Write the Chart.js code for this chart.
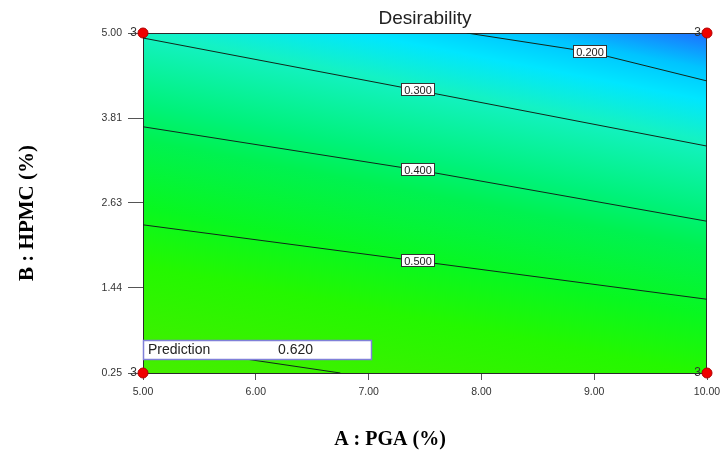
<!DOCTYPE html>
<html>
<head>
<meta charset="utf-8">
<title>Desirability</title>
<script src="https://cdn.jsdelivr.net/npm/chart.js@4.4.1/dist/chart.umd.min.js"></script>
<style>
  html, body { margin: 0; padding: 0; background: #fff; }
</style>
</head>
<body>
<canvas id="chart" width="720" height="452"></canvas>
<script>
"use strict";

// axis ticks
const xTicks = [5, 6, 7, 8, 9, 10];
const yTicks = [0.25, 1.44, 2.63, 3.81, 5.00];

// design points (corners) + number of replicates
const designA = [5, 10, 5, 10];
const designB = [0.25, 0.25, 5, 5];
const designReps = [3, 3, 3, 3];

// contour lines
const levels = ['0.200', '0.300', '0.400', '0.500', '0.600'];
const contourA = [
    [7.87, 8.96, 10],
    [5, 7.5, 10],
    [5, 7.5, 10],
    [5, 7.5, 10],
    [5, 5.92, 6.75]
];
const contourB = [
    [5.00, 4.735, 4.33],
    [4.93, 4.18, 3.42],
    [3.69, 3.07, 2.37],
    [2.32, 1.80, 1.28],
    [0.645, 0.443, 0.25]
];
// A value where each level label sits (null = hidden)
const labelA = [8.96, 7.44, 7.44, 7.44, null];

const predictionValue = 0.620;

(function(){

    Chart.defaults.font.family = 'Arial, "Liberation Sans", sans-serif';

    // interpolate B on a contour for a given A
    function contourAt(i, a){
        const xs = contourA[i], ys = contourB[i];
        for (let k = 0; k < xs.length - 1; k++) {
            if (a >= xs[k] && a <= xs[k + 1]) {
                const t = (a - xs[k]) / (xs[k + 1] - xs[k]);
                return ys[k] + t * (ys[k + 1] - ys[k]);
            }
        }
        return ys[ys.length - 1];
    }

    // colour ramp, bottom-left (high) to top-right (low)
    const ramp = [
        [0.00, '#46ee00'],
        [0.24, '#24f800'],
        [0.37, '#08f820'],
        [0.52, '#00f250'],
        [0.60, '#00f27a'],
        [0.76, '#14f2c4'],
        [0.85, '#00e6ff'],
        [0.92, '#00c4ff'],
        [1.00, '#1e6eff']
    ];

    const surfacePlugin = {
        id: 'surface',
        beforeDatasetsDraw(chart){
            const {ctx, chartArea: ca, scales} = chart;
            const x = scales.x, y = scales.y;
            // gradient runs across the contours (use the 0.300 line for the direction)
            const dx = x.getPixelForValue(contourA[1][2]) - x.getPixelForValue(contourA[1][0]);
            const dy = y.getPixelForValue(contourB[1][2]) - y.getPixelForValue(contourB[1][0]);
            const len = Math.hypot(dx, dy);
            const nx = dy / len, ny = -dx / len;
            const T = (ca.right - ca.left) * nx + (ca.top - ca.bottom) * ny;
            const g = ctx.createLinearGradient(ca.left, ca.bottom, ca.left + nx * T, ca.bottom + ny * T);
            ramp.forEach(s => g.addColorStop(s[0], s[1]));
            ctx.save();
            ctx.fillStyle = g;
            ctx.fillRect(ca.left, ca.top, ca.right - ca.left, ca.bottom - ca.top);
            ctx.strokeStyle = '#2a2a2a';
            ctx.lineWidth = 1;
            ctx.strokeRect(ca.left + 0.5, ca.top + 0.5, ca.right - ca.left - 1, ca.bottom - ca.top);
            ctx.restore();
        },
        afterDatasetsDraw(chart){
            const {ctx, chartArea: ca, scales} = chart;
            const x = scales.x, y = scales.y;
            ctx.save();

            // level labels
            ctx.font = '11px Arial, "Liberation Sans", sans-serif';
            ctx.textAlign = 'center';
            ctx.textBaseline = 'middle';
            levels.forEach((lv, i) => {
                if (labelA[i] === null) return;
                const px = Math.round(x.getPixelForValue(labelA[i]));
                const py = Math.round(y.getPixelForValue(contourAt(i, labelA[i])));
                const w = Math.ceil(ctx.measureText(lv).width) + 6;
                ctx.fillStyle = '#fff';
                ctx.fillRect(px - w / 2, py - 7, w, 13);
                ctx.strokeStyle = '#333';
                ctx.strokeRect(px - w / 2 + 0.5, py - 6.5, w - 1, 12);
                ctx.fillStyle = '#222';
                ctx.fillText(lv, px, py + 0.5);
            });

            // prediction box
            const bx = ca.left, by = ca.bottom - 33, bw = 228, bh = 19;
            ctx.fillStyle = '#fff';
            ctx.fillRect(bx, by, bw, bh);
            ctx.strokeStyle = '#8080d8';
            ctx.lineWidth = 1.5;
            ctx.strokeRect(bx + 0.5, by + 0.5, bw, bh);
            ctx.fillStyle = '#222';
            ctx.font = '14px Arial, "Liberation Sans", sans-serif';
            ctx.textAlign = 'left';
            ctx.fillText('Prediction', bx + 5, by + bh / 2 + 1);
            ctx.fillText(predictionValue.toFixed(3), bx + 135, by + bh / 2 + 1);

            // replicate counts next to design points
            ctx.font = '12px Arial, "Liberation Sans", sans-serif';
            ctx.textAlign = 'right';
            ctx.fillStyle = '#333';
            designA.forEach((a, i) => {
                ctx.fillText(String(designReps[i]), x.getPixelForValue(a) - 6, y.getPixelForValue(designB[i]));
            });
            ctx.restore();
        },
        afterDraw(chart){
            const {ctx, chartArea: ca} = chart;
            ctx.save();
            ctx.fillStyle = '#222';
            ctx.textAlign = 'center';
            ctx.textBaseline = 'middle';
            ctx.font = '19px Arial, "Liberation Sans", sans-serif';
            ctx.fillText('Desirability', (ca.left + ca.right) / 2, 19);

            ctx.fillStyle = '#000';
            ctx.font = 'bold 20px "Times New Roman", "Liberation Serif", serif';
            ctx.fillText('A : PGA (%)', 390, 440);
            ctx.font = 'bold 21px "Times New Roman", "Liberation Serif", serif';
            ctx.translate(28, 213);
            ctx.rotate(-Math.PI / 2);
            ctx.fillText('B : HPMC (%)', 0, 0);
            ctx.restore();
        }
    };

    const datasets = levels.map((lv, i) => ({
        label: lv,
        data: contourA[i].map((a, k) => ({x: a, y: contourB[i][k]})),
        showLine: true,
        borderColor: '#10261a',
        borderWidth: 1,
        pointRadius: 0,
        fill: false
    }));
    datasets.push({
        label: 'Design points',
        data: designA.map((a, i) => ({x: a, y: designB[i]})),
        showLine: false,
        pointRadius: 5,
        pointBackgroundColor: '#f00000',
        pointBorderColor: '#b00000',
        pointBorderWidth: 1,
        clip: false
    });

    new Chart(document.getElementById('chart'), {
        type: 'scatter',
        data: { datasets: datasets },
        options: {
            responsive: false,
            animation: false,
            layout: { padding: { left: 0, right: 13, top: 33, bottom: 0 } },
            plugins: {
                legend: { display: false },
                tooltip: { enabled: false },
                title: { display: false }
            },
            scales: {
                x: {
                    type: 'linear',
                    min: xTicks[0],
                    max: xTicks[xTicks.length - 1],
                    afterBuildTicks: s => { s.ticks = xTicks.map(v => ({value: v})); },
                    afterFit: s => { s.height = 79; s.paddingLeft = 0; s.paddingRight = 0; },
                    border: { display: false },
                    grid: { drawOnChartArea: false, drawTicks: true, tickLength: 7, color: '#555' },
                    ticks: {
                        padding: 6,
                        color: '#333',
                        font: { size: 10.5 },
                        maxRotation: 0,
                        callback: v => Number(v).toFixed(2)
                    }
                },
                y: {
                    type: 'linear',
                    min: yTicks[0],
                    max: yTicks[yTicks.length - 1],
                    afterBuildTicks: s => { s.ticks = yTicks.map(v => ({value: v})); },
                    afterFit: s => { s.width = 143; s.paddingTop = 0; s.paddingBottom = 0; },
                    border: { display: false },
                    grid: { drawOnChartArea: false, drawTicks: true, tickLength: 15, color: '#555' },
                    ticks: {
                        padding: 6,
                        color: '#333',
                        font: { size: 10.5 },
                        callback: v => Number(v).toFixed(2)
                    }
                }
            }
        },
        plugins: [surfacePlugin]
    });
})();
</script>
</body>
</html>
